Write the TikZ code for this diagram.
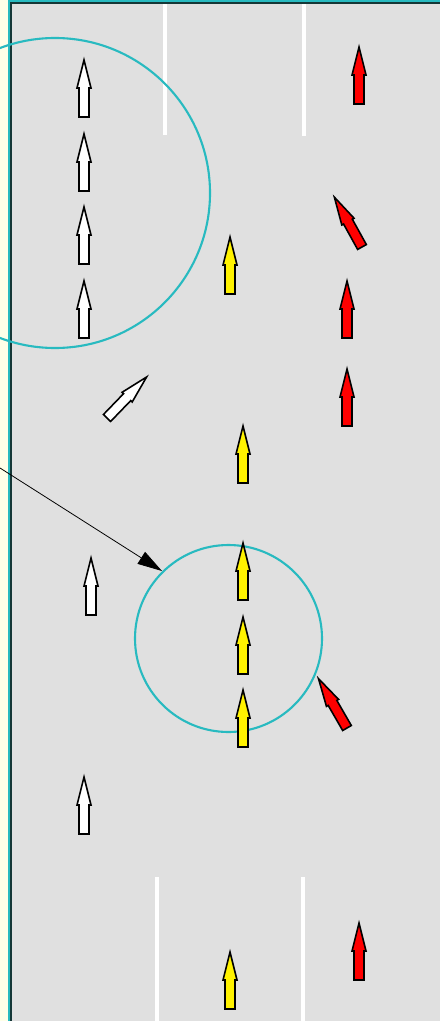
\documentclass[tikz,border=0pt]{standalone}
\usepackage{tikz}
\usetikzlibrary{arrows.meta}

\definecolor{road}{RGB}{224,224,224}
\definecolor{margin}{RGB}{255,255,232}
\definecolor{edge}{RGB}{20,55,55}
\definecolor{zonecol}{RGB}{40,186,192}

\begin{document}
\begin{tikzpicture}[x=0.02cm, y=-0.02cm,
    lane/.style={white, line width=2.3pt},
    zone/.style={draw=zonecol, line width=1.2pt},
    link/.style={-{Triangle[length=14pt, width=8pt]}, line width=0.45pt},
    car/.pic={\draw[pic actions, line width=0.9pt, line join=miter]
        (-5,0) -- (-5,-29) -- (-7,-29) -- (0,-57) -- (7,-29) -- (5,-29) -- (5,0) -- cycle;}]

    % Frame
    \useasboundingbox (0,0) rectangle (440,1021);
    \clip (0,0) rectangle (440,1021);

    % Road surface and left margin
    \fill[road] (0,0) rectangle (440,1021);
    \fill[margin] (0,0) rectangle (8,1021);
    \fill[zonecol] (8,0) rectangle (10,1021);
    \fill[zonecol] (8,0) rectangle (440,2);
    \fill[edge] (10,2) rectangle (12,1021);
    \fill[edge] (10,2) rectangle (440,4);

    % Lane markings, top and bottom
    \draw[lane] (165,4) -- (165,135);
    \draw[lane] (304,4) -- (304,136);
    \draw[lane] (157,877) -- (157,1021);
    \draw[lane] (303,877) -- (303,1021);

    % Detection zones
    \coordinate (zoneA) at (55,193);
    \coordinate (zoneB) at (228.5,638.5);
    \draw[zone] (zoneA) circle[radius=155];
    \draw[zone] (zoneB) circle[radius=93.5];

    % Queue in the left lane
    \foreach \y in {117,191,264,338}
        \pic[fill=white] at (84,\y) {car};
    \pic[fill=white, rotate=-44] at (107,418) {car};
    \pic[fill=white] at (91,615) {car};
    \pic[fill=white] at (84,834) {car};

    % Middle lane
    \pic[fill=yellow] at (230,294) {car};
    \pic[fill=yellow] at (243,483) {car};
    \foreach \y in {600,674,747}
        \pic[fill=yellow] at (243,\y) {car};
    \pic[fill=yellow] at (230,1009) {car};

    % Right lane
    \pic[fill=red] at (359,104) {car};
    \pic[fill=red, rotate=29] at (362,247) {car};
    \pic[fill=red] at (347,338) {car};
    \pic[fill=red] at (347,426) {car};
    \pic[fill=red, rotate=30] at (347,728) {car};
    \pic[fill=red] at (359,980) {car};

    % Pointer to the lower zone
    \coordinate (src) at (0,468);
    \coordinate (hit) at (162,571);
    \draw[link] (src) -- (hit);

\end{tikzpicture}
\end{document}
